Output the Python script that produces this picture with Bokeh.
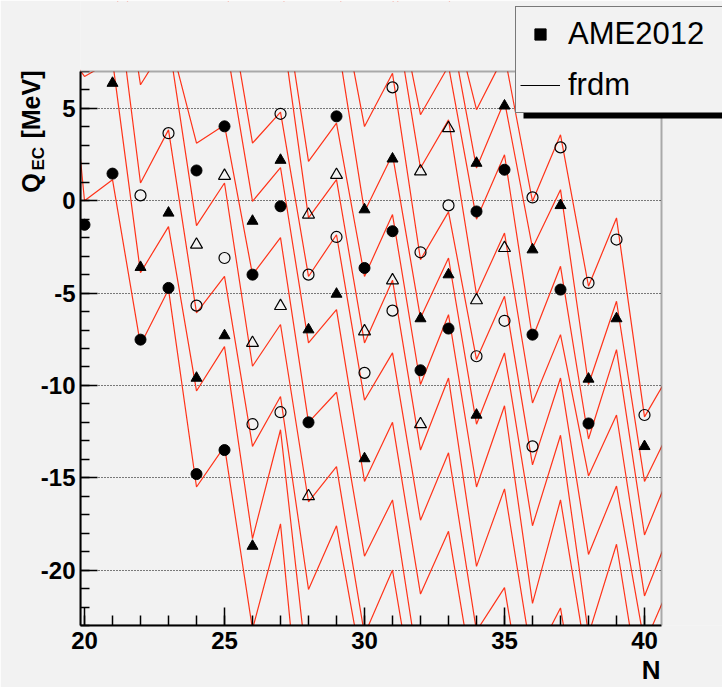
import math
from bokeh.plotting import figure
from bokeh.models import (Range1d, SingleIntervalTicker, Legend, LegendItem,
                          ColumnDataSource, BoxAnnotation, Title)
from bokeh.embed import file_html
from bokeh.resources import INLINE

# Q_EC (MeV) along isotopic chains, lowest chain first.
# Each chain: first neutron number and consecutive values.
frdm_a_n0, frdm_a = 19, [15.7, 0.0, 1.14, -7.8, -4.8, -15.5, -13.3, -23.2, -17.5, -33.0]
frdm_b_n0, frdm_b = 19, [8.8, 6.73, 7.6, -3.9, -1.4, -10.3, -7.9, -18.3, -12.4, -26.0]
frdm_c_n0, frdm_c = 21, [13.0, 0.96, 3.84, -6.07, -4.09, -13.3, -10.6, -21.05, -17.6, -26.0]
frdm_d_n0, frdm_d = 21, [16.0, 6.28, 8.7, -1.35, 0.96, -8.96, -6.7, -16.3, -14.4, -23.5, -20.0, -29.0]
frdm_e_n0, frdm_e = 23, [9.0, 3.12, 4.1, -4.0, -2.0, -12.0, -10.37, -19.25, -16.2, -26.0]
frdm_f_n0, frdm_f = 25, [9.0, -0.03, 1.8, -7.7, -5.9, -15.2, -12.0, -21.3, -17.9, -27.0]
frdm_g_n0, frdm_g = 25, [12.0, 3.12, 4.8, -4.1, -1.84, -10.8, -8.24, -17.3, -13.65, -23.3, -20.95, -30.0]
frdm_h_n0, frdm_h = 27, [10.0, -0.93, 1.14, -7.7, -4.3, -13.5, -9.6, -19.8, -15.6, -25.0, -22.05, -31.0]
frdm_i_n0, frdm_i = 27, [12.0, 2.13, 4.2, -4.1, -0.75, -9.95, -6.17, -15.5, -11.1, -21.8, -16.2, -25.5]
frdm_j_n0, frdm_j = 29, [9.0, -0.6, 2.5, -6.35, -3.1, -12.1, -8.24, -17.6, -12.7, -23.5, -18.6, -28.0]
frdm_k_n0, frdm_k = 29, [12.0, 4.02, 6.9, -3.19, -0.6, -8.6, -5.17, -14.3, -9.6, -19.15, -15.45, -24.0, -20.5]
frdm_l_n0, frdm_l = 31, [11.0, 1.77, 4.38, -5.08, -1.75, -10.95, -7.25, -14.9, -11.6, -21.4, -17.6]
frdm_m_n0, frdm_m = 31, [12.2, 4.66, 7.3, -1.0, 2.49, -7.43, -3.55, -12.9, -8.06, -18.1, -14.4]
frdm_n_n0, frdm_n = 33, [10.0, 1.77, 5.4, -2.56, 0.6, -9.95, -5.44, -15.2, -12.1]
frdm_o_n0, frdm_o = 33, [11.0, 4.93, 7.9, -0.03, 3.57, -4.63, -0.93, -11.7, -9.1]

ame_a_n0, ame_a = 20, [-1.3, 1.47, -7.52, -4.72, -14.8, -13.5]
ame_b_n0, ame_b = 21, [6.37, -3.6, -0.66, -9.6, -7.3, -18.7]
ame_c_n0, ame_c = 22, [0.29, 3.66, -5.68, -3.1, -12.1, -11.45]
ame_d_n0, ame_d = 24, [-2.38, 1.35, -7.7, -5.7, -16.0]
ame_e_n0, ame_e = 24, [1.64, 4.03, -4.0, -0.3, -12.0]
ame_f_n0, ame_f = 26, [-1.1, 2.2, -6.98, -5.05, -13.96]
ame_g_n0, ame_g = 27, [4.71, -4.0, -1.96, -9.32, -5.95]
ame_h_n0, ame_h = 28, [-0.75, 1.4, -7.07, -4.31, -12.1]
ame_i_n0, ame_i = 29, [4.57, -3.64, -1.65, -9.18, -6.92]
ame_j_n0, ame_j = 30, [-0.48, 2.27, -6.38, -4.0, -11.6]
ame_k_n0, ame_k = 31, [6.14, -2.79, -0.25, -8.42, -6.5, -13.3]
ame_l_n0, ame_l = 32, [1.59, 3.93, -5.39, -2.56]
ame_m_n0, ame_m = 34, [-0.58, 1.68, -7.25, -4.81, -12.06]
ame_n_n0, ame_n = 34, [2.04, 5.14, -2.65, -0.25, -9.65, -6.38, -13.3]
ame_o_n0, ame_o = 36, [0.18, 2.89, -4.45, -2.1, -11.6]

y_ticks = [-20, -15, -10, -5, 0, 5]
y_tick_labels = ["-20", "-15", "-10", "-5", "0", "5"]

frdm_chains = [
    (frdm_a_n0, frdm_a), (frdm_b_n0, frdm_b), (frdm_c_n0, frdm_c), (frdm_d_n0, frdm_d),
    (frdm_e_n0, frdm_e), (frdm_f_n0, frdm_f), (frdm_g_n0, frdm_g), (frdm_h_n0, frdm_h),
    (frdm_i_n0, frdm_i), (frdm_j_n0, frdm_j), (frdm_k_n0, frdm_k), (frdm_l_n0, frdm_l),
    (frdm_m_n0, frdm_m), (frdm_n_n0, frdm_n), (frdm_o_n0, frdm_o),
]
ame_chains = [
    (ame_a_n0, ame_a), (ame_b_n0, ame_b), (ame_c_n0, ame_c), (ame_d_n0, ame_d),
    (ame_e_n0, ame_e), (ame_f_n0, ame_f), (ame_g_n0, ame_g), (ame_h_n0, ame_h),
    (ame_i_n0, ame_i), (ame_j_n0, ame_j), (ame_k_n0, ame_k), (ame_l_n0, ame_l),
    (ame_m_n0, ame_m), (ame_n_n0, ame_n), (ame_o_n0, ame_o),
]

RED = "#ff3319"
BG = "#f2f2f2"
FONT = "Liberation Sans"

# visible axis window
X_MIN, X_MAX = 19.857, 40.607
Y_MIN, Y_MAX = -23.0, 7.0
PX_PER_N = 28.0
PX_PER_MEV = 18.467
TOP_GAP = 1
FRAME_LEFT, FRAME_BOTTOM = 80, 625

# legend box placement in canvas pixels, with its drop shadow offset
LEG_LEFT, LEG_TOP, LEG_BOTTOM = 515, 8, 113
SHADOW_DX, SHADOW_DY = 8, 5


def x_at(px):
    return X_MIN + (px - FRAME_LEFT) / PX_PER_N


def y_at(py):
    return Y_MIN + (FRAME_BOTTOM - py) / PX_PER_MEV


# the frame reaches (almost) the top and right edges of the canvas so the
# legend box can sit above the axis window; the part outside it is masked
p = figure(width=722, height=687,
           x_range=Range1d(X_MIN, x_at(722)),
           y_range=Range1d(Y_MIN, y_at(TOP_GAP)),
           output_backend="svg", toolbar_location=None,
           min_border_left=FRAME_LEFT, min_border_right=0,
           min_border_top=TOP_GAP, min_border_bottom=687 - FRAME_BOTTOM)
p.title.text = ""
p.background_fill_color = BG
p.border_fill_color = BG
p.outline_line_color = None

for ax in (p.xaxis[0], p.yaxis[0]):
    ax.ticker = SingleIntervalTicker(interval=5, num_minor_ticks=5)
    ax.axis_line_width = 2
    ax.major_tick_out = 0
    ax.minor_tick_out = 0
    ax.major_tick_line_width = 1.5
    ax.minor_tick_line_width = 1.5
    ax.major_label_text_font = FONT
    ax.major_label_text_font_style = "bold"
    ax.major_label_text_font_size = "24px"
    ax.major_label_text_color = "black"
    ax.axis_label = None
p.xaxis.bounds = (X_MIN, X_MAX)
p.yaxis.bounds = (Y_MIN, Y_MAX)
p.xaxis.major_tick_in = 18
p.xaxis.minor_tick_in = 10
p.xaxis.major_label_standoff = 6
p.yaxis.major_tick_in = 17
p.yaxis.minor_tick_in = 9
p.yaxis.major_label_standoff = 5
p.yaxis.major_label_overrides = dict(zip(y_ticks, y_tick_labels))

p.xgrid.visible = False
p.ygrid.grid_line_color = "black"
p.ygrid.grid_line_dash = "1 2"
p.ygrid.grid_line_width = 1
p.ygrid.bounds = (Y_MIN, Y_MAX)

# model curves
for n0, vals in frdm_chains:
    p.line(x=list(range(n0, n0 + len(vals))), y=vals, line_color=RED, line_width=1.2)

# measured values, marker style cycling with the chain
styles = ["fc", "ft", "oc", "ot"]
pts = {s: {"x": [], "y": []} for s in styles}
for k, (n0, vals) in enumerate(ame_chains):
    s = styles[k % 4]
    pts[s]["x"].extend(range(n0, n0 + len(vals)))
    pts[s]["y"].extend(vals)

p.scatter("x", "y", source=ColumnDataSource(pts["fc"]), marker="circle", size=11,
          fill_color="black", line_color="black")
p.scatter("x", "y", source=ColumnDataSource(pts["ft"]), marker="triangle", size=11,
          fill_color="black", line_color="black")
p.scatter("x", "y", source=ColumnDataSource(pts["oc"]), marker="circle", size=11,
          fill_color=None, line_color="black", line_width=1.2)
p.scatter("x", "y", source=ColumnDataSource(pts["ot"]), marker="triangle", size=12,
          fill_color=None, line_color="black", line_width=1.2)

# mask everything outside the axis window, then draw the window border
p.add_layout(BoxAnnotation(left=X_MIN, right=X_MAX + 30, bottom=Y_MAX, top=Y_MAX + 30,
                           fill_color=BG, fill_alpha=1.0, line_color=None))
p.add_layout(BoxAnnotation(left=X_MAX, right=X_MAX + 30, fill_color=BG, fill_alpha=1.0,
                           line_color=None))
p.add_layout(BoxAnnotation(left=X_MIN, right=X_MAX, bottom=Y_MIN, top=Y_MAX,
                           fill_alpha=0.0, line_color="black", line_width=2))

# legend drop shadow
p.add_layout(BoxAnnotation(left=x_at(LEG_LEFT + SHADOW_DX), right=X_MAX + 30,
                           top=y_at(LEG_TOP + SHADOW_DY), bottom=y_at(LEG_BOTTOM + SHADOW_DY),
                           fill_color="black", fill_alpha=1.0, line_color=None))

# legend entries (no points of their own)
nan = float("nan")
r_sq = p.scatter(x=[nan], y=[nan], marker="square", size=0, fill_color="black", line_color="black")
r_ln = p.line(x=[nan, nan], y=[nan, nan], line_color="black", line_width=1)

legend = Legend(
    items=[LegendItem(label="AME2012", renderers=[r_sq]),
           LegendItem(label="frdm", renderers=[r_ln])],
    location=(LEG_LEFT - FRAME_LEFT, FRAME_BOTTOM - LEG_BOTTOM), orientation="vertical",
    label_text_font=FONT, label_text_font_size="31px", label_text_color="black",
    glyph_width=40, glyph_height=28, label_height=46, label_width=175,
    label_standoff=8, padding=4, spacing=5, margin=0,
    border_line_color="black", border_line_width=1,
    background_fill_color=BG, background_fill_alpha=1.0,
)
p.add_layout(legend)

# axis titles
tkw = dict(text_font=FONT, text_font_style="bold", text_color="black")
p.add_layout(Title(text="EC", align="left", offset=455, standoff=-21,
                   vertical_align="bottom", text_font_size="17px", **tkw), "left")
p.add_layout(Title(text="Q\u00a0\u00a0\u00a0\u00a0\u00a0[MeV]", align="right", offset=69,
                   standoff=-15, vertical_align="bottom", text_font_size="25px", **tkw), "left")
# small gap between the tick labels and the N title
p.add_layout(Title(text="\u00a0", standoff=0, text_font_size="4px", **tkw), "below")
p.add_layout(Title(text="N", align="right", offset=62, standoff=-7,
                   vertical_align="top", text_font_size="26px", **tkw), "below")

open("out.html", "w").write(file_html(p, INLINE))
